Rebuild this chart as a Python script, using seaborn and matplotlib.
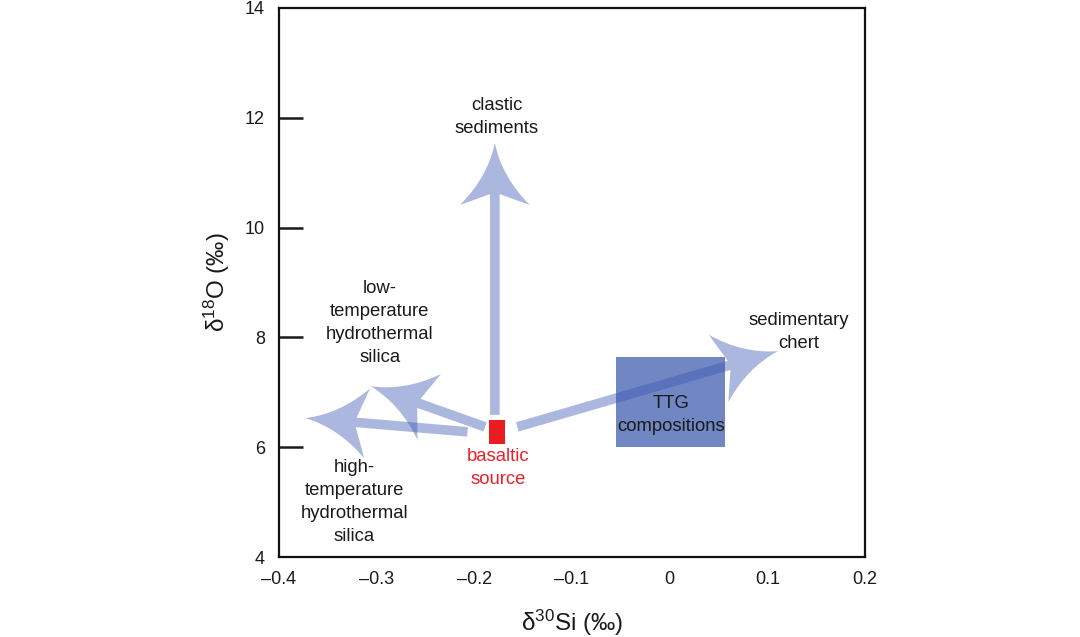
import numpy as np
import matplotlib
matplotlib.use("Agg")
import matplotlib.pyplot as plt
import seaborn as sns
from matplotlib.path import Path
from matplotlib.patches import PathPatch, Rectangle
from matplotlib.transforms import IdentityTransform

# ---- data ----
x_ticks = [-0.4, -0.3, -0.2, -0.1, 0, 0.1, 0.2]
x_ticklabels = ["\u20130.4", "\u20130.3", "\u20130.2", "\u20130.1", "0", "0.1", "0.2"]
y_ticks = [4, 6, 8, 10, 12, 14]

# arrows: start (x, y) -> tip (x, y)
arrow_names = ["clastic", "high_T", "low_T", "chert"]
arrow_start_x = [-0.179, -0.207, -0.189, -0.156]
arrow_start_y = [6.59, 6.28, 6.37, 6.37]
arrow_tip_x = [-0.179, -0.373, -0.306, 0.111]
arrow_tip_y = [11.54, 6.53, 7.11, 7.75]

# basaltic source box and TTG field (x0, x1, y0, y1)
basalt_box = [-0.185, -0.169, 6.06, 6.50]
ttg_box = [-0.055, 0.057, 6.00, 7.64]

labels = ["clastic\nsediments", "low-\ntemperature\nhydrothermal\nsilica",
          "high-\ntemperature\nhydrothermal\nsilica", "basaltic\nsource",
          "sedimentary\nchert", "TTG\ncompositions"]
label_x = [-0.177, -0.297, -0.323, -0.176, 0.132, 0.001]
label_y = [12.02, 8.26, 5.0, 5.62, 8.1, 6.58]
label_color = ["#1a1a1a", "#1a1a1a", "#1a1a1a", "#e8202a", "#1a1a1a", "#1a1a1a"]

sns.set_theme(style="white")
plt.rcParams["font.family"] = ["Liberation Sans", "DejaVu Sans"]
plt.rcParams["mathtext.fontset"] = "custom"
plt.rcParams["mathtext.rm"] = "Liberation Sans"
plt.rcParams["mathtext.it"] = "Liberation Sans:italic"

fig, ax = plt.subplots(figsize=(10.8, 6.37), dpi=100)
ax.set_position([279 / 1080, 1 - 557 / 637, (865 - 279) / 1080, (557 - 8) / 637])
ax.set_xlim(-0.4, 0.2)
ax.set_ylim(4, 14)
ax.set_facecolor("white")
for sp in ax.spines.values():
    sp.set_color("#111111")
    sp.set_linewidth(1.6)

ax.set_xticks(x_ticks)
ax.set_xticklabels(x_ticklabels)
ax.set_yticks(y_ticks)
ax.set_yticklabels([str(t) for t in y_ticks])
ax.tick_params(axis="x", bottom=False, length=0, pad=10, labelsize=13, colors="#1a1a1a")
ax.tick_params(axis="y", left=True, direction="in", length=17, width=1.8, pad=10,
               labelsize=13, colors="#1a1a1a")
# no tick marks at the corners (4 and 14)
yt = ax.yaxis.get_major_ticks()
yt[0].tick1line.set_visible(False)
yt[-1].tick1line.set_visible(False)
ax.set_xlabel("\u03b4$^{\\mathrm{30}}$Si (\u2030)", fontsize=17.5, labelpad=14, color="#1a1a1a")
ax.set_ylabel("\u03b4$^{\\mathrm{18}}$O (\u2030)", fontsize=17.5, labelpad=9, color="#1a1a1a")

# TTG field
ax.add_patch(Rectangle((ttg_box[0], ttg_box[2]), ttg_box[1] - ttg_box[0],
                       ttg_box[3] - ttg_box[2], facecolor="#7087c4", edgecolor="none", zorder=1))


def swept_arrow(ax, start, tip, head_len=62, head_w=35, notch=11, shaft_w=4.8,
                color="#3d58b3", alpha=0.43):
    """arrow with concave head, built in pixel space from data endpoints"""
    s = ax.transData.transform(start)
    t = ax.transData.transform(tip)
    u = (t - s) / np.hypot(*(t - s))
    n = np.array([-u[1], u[0]])
    back = t - (head_len - notch) * u
    base = t - head_len * u
    verts = [s + shaft_w * n, back + shaft_w * n, base + head_w * n,
             t - 0.55 * head_len * u + 0.2 * head_w * n, t,
             t - 0.55 * head_len * u - 0.2 * head_w * n, base - head_w * n,
             back - shaft_w * n, s - shaft_w * n, s + shaft_w * n]
    codes = [Path.MOVETO, Path.LINETO, Path.LINETO, Path.CURVE3, Path.CURVE3,
             Path.CURVE3, Path.CURVE3, Path.LINETO, Path.LINETO, Path.CLOSEPOLY]
    patch = PathPatch(Path(verts, codes), facecolor=color, edgecolor="none",
                      alpha=alpha, transform=IdentityTransform(), zorder=2)
    ax.add_patch(patch)


for i in range(len(arrow_names)):
    swept_arrow(ax, (arrow_start_x[i], arrow_start_y[i]), (arrow_tip_x[i], arrow_tip_y[i]))

# basaltic source
ax.add_patch(Rectangle((basalt_box[0], basalt_box[2]), basalt_box[1] - basalt_box[0],
                       basalt_box[3] - basalt_box[2], facecolor="#ec1c24", edgecolor="none", zorder=3))

for txt, x, y, c in zip(labels, label_x, label_y, label_color):
    ax.text(x, y, txt, ha="center", va="center", fontsize=13.3, color=c,
            linespacing=1.45, zorder=4)

fig.savefig("out.png", dpi=100, facecolor="white")
